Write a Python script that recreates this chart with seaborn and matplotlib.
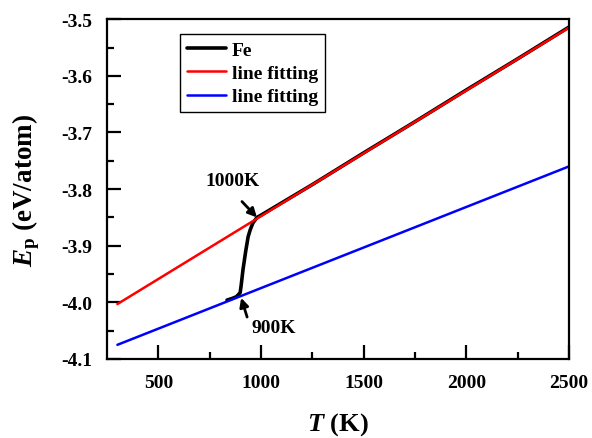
import numpy as np
import matplotlib
matplotlib.use('Agg')
import matplotlib.pyplot as plt
import seaborn as sns

# ── data ─────────────────────────────────────────────────────────────────────
fe_T = [834, 860, 880, 898, 903, 912, 925, 937, 947, 960, 980, 1000, 1250, 1500, 1750, 2000, 2250, 2500]
fe_E = [-3.996, -3.993, -3.990, -3.983, -3.970, -3.942, -3.910, -3.884, -3.872, -3.860, -3.850, -3.846,
        -3.792, -3.736, -3.681, -3.625, -3.570, -3.514]

red_T = [300, 2500]
red_E = [-4.003, -3.515]

blue_T = [300, 2500]
blue_E = [-4.075, -3.760]

# ── style ────────────────────────────────────────────────────────────────────
sns.set_theme(style='ticks')
plt.rcParams.update({
    'font.family': ['Liberation Serif', 'DejaVu Serif'],
    'font.weight': 'bold',
    'mathtext.fontset': 'custom',
    'mathtext.rm': 'Liberation Serif:bold',
    'mathtext.it': 'Liberation Serif:italic:bold',
    'mathtext.bf': 'Liberation Serif:bold',
    'axes.linewidth': 1.6,
    'axes.edgecolor': 'black',
    'axes.labelcolor': 'black',
    'text.color': 'black',
    'xtick.color': 'black',
    'ytick.color': 'black',
    'xtick.direction': 'in',
    'ytick.direction': 'in',
})

fig = plt.figure(figsize=(5.92, 4.39), dpi=100)
ax = fig.add_axes([0.181, 0.180, 0.780, 0.774])

sns.lineplot(x=fe_T, y=fe_E, ax=ax, color='black', lw=2.6, label='Fe', sort=False)
sns.lineplot(x=red_T, y=red_E, ax=ax, color='#ff0000', lw=1.8, label='line fitting')
sns.lineplot(x=blue_T, y=blue_E, ax=ax, color='#0000ff', lw=1.8, label='line fitting')

ax.set_xlim(250, 2500)
ax.set_ylim(-4.1, -3.5)
ax.set_xticks([500, 1000, 1500, 2000, 2500])
ax.set_xticks([750, 1250, 1750, 2250], minor=True)
ax.set_yticks(np.round(np.arange(-4.1, -3.45, 0.1), 1))
ax.set_yticks(np.round(np.arange(-4.05, -3.5, 0.1), 2), minor=True)
ax.set_yticklabels([f'{v:.1f}' for v in ax.get_yticks()])
ax.tick_params(which='major', length=10, width=1.6, labelsize=14, pad=11)
ax.tick_params(which='minor', length=5, width=1.6)
for lab in ax.get_xticklabels() + ax.get_yticklabels():
    lab.set_fontweight('bold')

ax.set_xlabel(r'$T$ (K)', fontsize=19, fontweight='bold')
ax.set_ylabel(r'$E_\mathrm{p}$ (eV/atom)', fontsize=19.5, fontweight='bold')
ax.xaxis.set_label_coords(0.5, -0.152)
ax.yaxis.set_label_coords(-0.142, 0.5)

# annotations
arrow = dict(arrowstyle='-|>', color='black', lw=2.0, shrinkA=0, shrinkB=0, mutation_scale=13)
ax.text(859, -3.785, '1000K', ha='center', va='center', fontsize=14, fontweight='bold')
ax.annotate('', xy=(980, -3.850), xytext=(907, -3.822), arrowprops=arrow)
ax.text(1063, -4.045, '900K', ha='center', va='center', fontsize=14, fontweight='bold')
ax.annotate('', xy=(903, -3.992), xytext=(932, -4.026), arrowprops=arrow)

leg = ax.legend(loc='upper left', bbox_to_anchor=(0.158, 0.956),
                frameon=True, fancybox=False, edgecolor='black', framealpha=1,
                handlelength=2.0, handletextpad=0.3, borderpad=0.35, labelspacing=0.3,
                borderaxespad=0, prop={'weight': 'bold', 'size': 14})
leg.get_frame().set_linewidth(1.0)

fig.savefig('out.png', dpi=100)
